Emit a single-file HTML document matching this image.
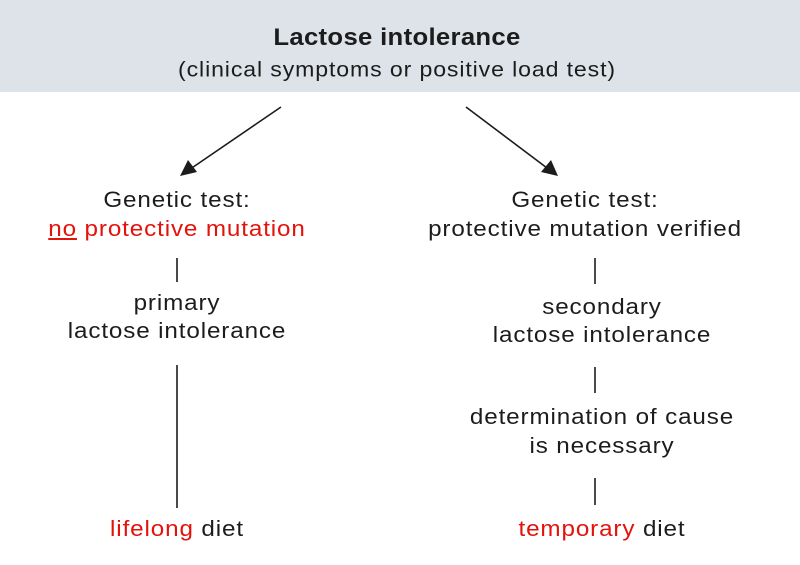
<!DOCTYPE html>
<html><head><meta charset="utf-8"><style>
body{margin:0;width:800px;height:565px;background:#fff;font-family:"Liberation Sans",sans-serif;color:#1c1c1c;position:relative;overflow:hidden}
.hd{position:absolute;left:0;top:0;width:800px;height:92px;background:#dde3e8}
.t{position:absolute;white-space:nowrap;transform:translate(-50%,-50%) scaleX(1.1);font-size:22px;letter-spacing:0.8px;line-height:1}
.r{color:#e3120b}
</style></head><body>
<div class="hd"></div>
<div class="t" style="left:397px;top:38px;font-size:24px;font-weight:bold;letter-spacing:0.3px;transform:translate(-50%,-50%) scaleX(1.07)">Lactose intolerance</div>
<div class="t" style="left:397px;top:70px;font-size:21px">(clinical symptoms or positive load test)</div>
<svg width="800" height="565" style="position:absolute;left:0;top:0">
<g stroke="#1c1c1c" stroke-width="1.6">
<line x1="281" y1="107" x2="183" y2="174"/>
<polygon points="180,176 188,160 197,172" fill="#1c1c1c" stroke="none"/>
<line x1="466" y1="107" x2="555" y2="174"/>
<polygon points="558,176 541,172 551,160" fill="#1c1c1c" stroke="none"/>
<line x1="177" y1="258" x2="177" y2="282"/>
<line x1="177" y1="365" x2="177" y2="508"/>
<line x1="595" y1="258" x2="595" y2="284"/>
<line x1="595" y1="367" x2="595" y2="393"/>
<line x1="595" y1="478" x2="595" y2="505"/>
</g></svg>
<div class="t" style="left:177px;top:200px">Genetic test:</div>
<div class="t r" style="left:177px;top:229px"><u>no</u> protective mutation</div>
<div class="t" style="left:177px;top:303px">primary</div>
<div class="t" style="left:177px;top:331px">lactose intolerance</div>
<div class="t" style="left:177px;top:529px"><span class="r">lifelong</span> diet</div>
<div class="t" style="left:585px;top:200px">Genetic test:</div>
<div class="t" style="left:585px;top:229px">protective mutation verified</div>
<div class="t" style="left:602px;top:307px">secondary</div>
<div class="t" style="left:602px;top:335px">lactose intolerance</div>
<div class="t" style="left:602px;top:417px">determination of cause</div>
<div class="t" style="left:602px;top:446px">is necessary</div>
<div class="t" style="left:602px;top:529px"><span class="r">temporary</span> diet</div>
</body></html>
